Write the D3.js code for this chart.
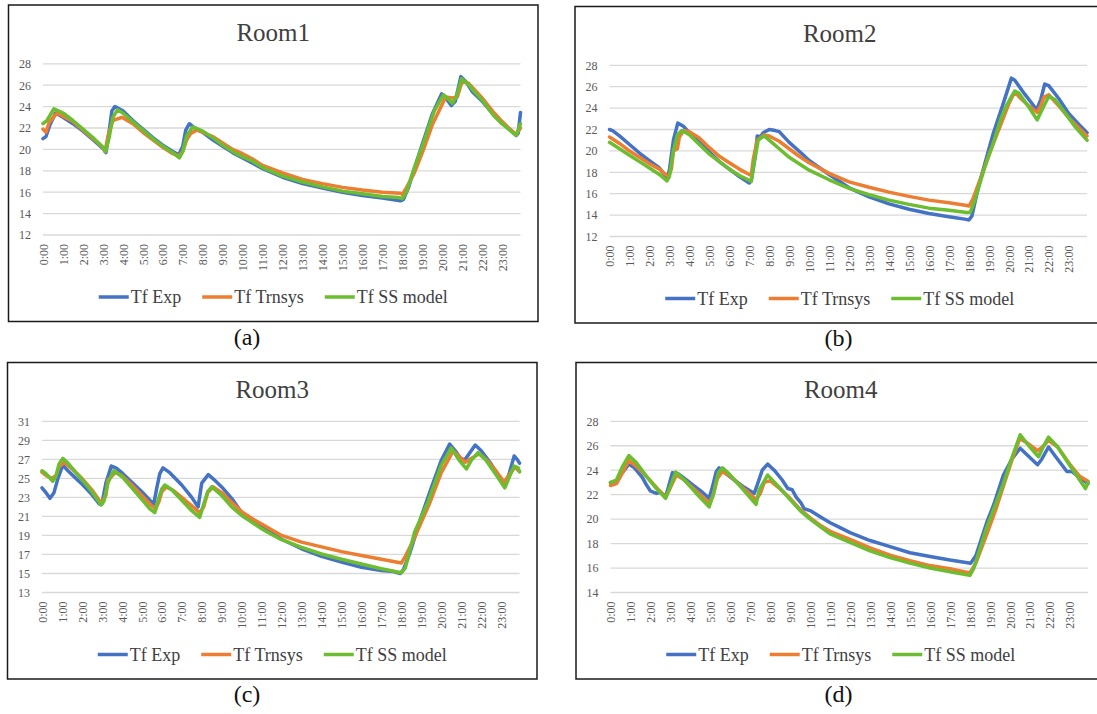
<!DOCTYPE html>
<html><head><meta charset="utf-8">
<script src="https://cdn.jsdelivr.net/npm/d3@7"></script>
<style>
body{margin:0;background:#fff}
svg{display:block}
text{font-family:"Liberation Serif","Times New Roman",Times,"DejaVu Serif",serif}
</style>
</head><body>
<svg id="chart" width="1097" height="714"></svg>
<script>
// ---------- DATA (hour of day, temperature °C) ----------
const timeLabels = ["0:00","1:00","2:00","3:00","4:00","5:00","6:00","7:00","8:00","9:00","10:00","11:00",
  "12:00","13:00","14:00","15:00","16:00","17:00","18:00","19:00","20:00","21:00","22:00","23:00"];
const timeTickHours = [0,1,2,3,4,5,6,7,8,9,10,11,12,13,14,15,16,17,18,19,20,21,22,23];
const lastSampleHour = 23.917; // 23:55
const seriesNames = ["Tf Exp","Tf Trnsys","Tf SS model"];
const seriesColors = ["#4472C4","#ED7D31","#6CBD30"];
const roomTitles = ["Room1","Room2","Room3","Room4"];
const panelLabels = ["(a)","(b)","(c)","(d)"];
const yTicksRoom1 = [12,14,16,18,20,22,24,26,28];
const yTicksRoom2 = [12,14,16,18,20,22,24,26,28];
const yTicksRoom3 = [13,15,17,19,21,23,25,27,29,31];
const yTicksRoom4 = [14,16,18,20,22,24,26,28];

const room1Exp = [[0,21.0],[0.15,21.2],[0.35,22.3],[0.63,23.4],[1,23.0],[1.5,22.4],[2,21.7],[2.5,20.9],[3.0,20.1],[3.15,19.7],[3.3,21.5],[3.45,23.6],[3.6,24.0],[4,23.6],[4.5,22.7],[5,21.9],[5.5,21.1],[6,20.4],[6.5,19.8],[6.8,19.5],[7.0,20.3],[7.15,21.8],[7.33,22.4],[7.6,22.0],[8,21.6],[8.5,20.9],[9,20.3],[9.5,19.7],[10,19.2],[10.5,18.7],[11,18.2],[12,17.4],[13,16.8],[14,16.4],[15,16.0],[16,15.7],[17,15.45],[17.9,15.2],[18.05,15.3],[18.3,16.4],[18.6,18.2],[19,20.5],[19.5,23.3],[19.97,25.2],[20.1,25.0],[20.45,24.1],[20.65,24.5],[20.93,26.8],[21.2,26.3],[21.5,25.4],[22,24.5],[22.5,23.4],[23,22.4],[23.5,21.7],[23.7,21.3],[23.8,21.5],[23.917,23.45]];
const room1Trnsys = [[0,21.9],[0.15,21.6],[0.3,22.5],[0.7,23.4],[1,23.1],[1.5,22.6],[2,21.8],[2.5,21.0],[3,20.2],[3.1,19.8],[3.3,21.6],[3.5,22.7],[3.95,23.0],[4.5,22.4],[5,21.6],[5.5,20.9],[6,20.2],[6.5,19.6],[6.8,19.4],[7.0,19.8],[7.2,20.9],[7.4,21.5],[7.7,21.8],[8,21.6],[8.5,21.2],[9,20.6],[9.5,20.0],[10,19.6],[10.5,19.1],[11,18.5],[12,17.8],[13,17.2],[14,16.8],[15,16.45],[16,16.2],[17,16.0],[17.9,15.9],[18.0,15.8],[18.2,16.4],[18.6,17.8],[19,19.7],[19.5,22.3],[20.17,24.9],[20.5,24.8],[20.75,24.9],[21.0,26.4],[21.3,26.2],[21.6,25.6],[22,24.8],[22.6,23.4],[23,22.6],[23.5,21.7],[23.7,21.4],[23.917,22.0]];
const room1SS = [[0,22.4],[0.2,22.7],[0.55,23.8],[1,23.4],[1.5,22.7],[2,21.9],[2.5,21.1],[3,20.2],[3.14,19.8],[3.3,21.0],[3.5,23.0],[3.73,23.7],[4,23.4],[4.5,22.6],[5,21.8],[5.5,21.0],[6,20.3],[6.5,19.7],[6.83,19.2],[7.0,19.8],[7.2,21.3],[7.5,22.1],[8,21.7],[8.5,21.1],[9,20.4],[9.5,19.8],[10,19.3],[10.5,18.9],[11,18.3],[12,17.5],[13,16.95],[14,16.5],[15,16.1],[16,15.85],[17,15.6],[17.8,15.5],[18.0,15.4],[18.2,16.0],[18.6,18.3],[19,20.3],[19.25,21.7],[19.6,23.6],[20.05,25.1],[20.25,24.8],[20.5,24.3],[20.7,24.9],[20.97,26.6],[21.3,26.1],[21.6,25.4],[22,24.6],[22.6,23.1],[23,22.4],[23.5,21.6],[23.7,21.3],[23.917,22.4]];

const room2Exp = [[0,22.0],[0.15,21.9],[0.5,21.4],[1,20.6],[1.5,19.8],[2,19.1],[2.5,18.4],[2.88,17.5],[3.0,18.2],[3.2,21.0],[3.42,22.6],[3.7,22.3],[4,21.7],[4.5,20.8],[5,19.9],[5.5,19.0],[6,18.3],[6.5,17.6],[7.0,17.0],[7.1,17.2],[7.3,19.5],[7.4,21.4],[7.55,21.3],[7.7,21.7],[8.0,22.0],[8.3,21.9],[8.5,21.8],[9,20.8],[9.6,19.8],[10,19.1],[11,17.8],[12,16.55],[13,15.7],[14,15.05],[15,14.55],[16,14.15],[17,13.85],[17.87,13.6],[18.0,13.55],[18.15,13.9],[18.5,16.8],[19.2,21.5],[19.7,24.3],[20.13,26.8],[20.3,26.6],[20.8,25.3],[21.4,23.85],[21.6,24.8],[21.8,26.25],[22.0,26.1],[22.5,24.9],[23,23.5],[23.5,22.5],[23.917,21.7]];
const room2Trnsys = [[0,21.3],[0.5,20.7],[1,20.0],[1.5,19.4],[2,18.8],[2.5,18.3],[2.8,17.8],[2.95,17.6],[3.1,18.3],[3.2,20.0],[3.4,20.2],[3.5,21.3],[3.72,21.9],[4,21.8],[4.5,21.2],[5,20.3],[5.5,19.5],[6,18.9],[6.5,18.3],[7.0,17.8],[7.1,17.7],[7.2,19.2],[7.4,21.0],[7.74,21.5],[8,21.4],[8.5,20.9],[9,20.2],[9.5,19.5],[10,18.9],[11,17.9],[12,17.1],[13,16.6],[14,16.15],[15,15.75],[16,15.4],[17,15.15],[17.9,14.9],[18.0,14.85],[18.2,15.5],[18.6,17.5],[19.0,19.6],[19.5,22.0],[20,24.4],[20.3,25.5],[20.6,24.9],[21,24.2],[21.42,23.6],[21.6,24.2],[21.75,25.0],[22.0,25.25],[22.5,24.2],[23,23.1],[23.917,21.4]];
const room2SS = [[0,20.8],[0.5,20.2],[1,19.6],[1.5,19.0],[2,18.4],[2.5,17.8],[2.88,17.2],[3.0,17.6],[3.2,20.0],[3.4,21.5],[3.63,21.9],[4,21.5],[4.5,20.6],[5,19.7],[5.5,19.0],[6,18.3],[6.5,17.7],[7.1,17.15],[7.25,19.0],[7.45,21.0],[7.74,21.4],[8,21.0],[8.5,20.2],[9,19.4],[9.5,18.8],[10,18.2],[11,17.3],[12,16.5],[13,15.9],[14,15.4],[15,15.0],[16,14.65],[17,14.45],[17.9,14.25],[18.07,14.25],[18.3,15.4],[18.8,18.5],[19.2,20.6],[19.6,23.0],[19.9,24.3],[20.3,25.6],[20.5,25.4],[21,24.1],[21.42,22.9],[21.6,23.6],[22.0,25.1],[22.3,24.8],[22.8,23.6],[23.3,22.3],[23.917,21.0]];

const room3Exp = [[0,24.0],[0.2,23.5],[0.4,22.9],[0.6,23.5],[0.8,25.0],[1.04,26.4],[1.3,25.8],[1.7,25.0],[2,24.4],[2.5,23.3],[2.88,22.3],[3.0,22.3],[3.2,24.5],[3.47,26.3],[3.7,26.1],[4,25.6],[4.5,24.6],[5,23.6],[5.4,22.7],[5.6,22.3],[5.75,24.0],[5.9,25.5],[6.06,26.1],[6.4,25.6],[7,24.3],[7.5,23.0],[7.82,22.0],[8.0,24.5],[8.33,25.4],[8.6,24.9],[9,24.1],[9.5,22.9],[10,21.4],[10.5,20.6],[11,19.9],[12,18.6],[13,17.6],[14,16.8],[15,16.2],[16,15.65],[17,15.3],[17.6,15.2],[17.95,15.0],[18.1,15.4],[18.4,17.0],[19,21.0],[19.5,24.0],[20,26.9],[20.42,28.6],[20.7,27.9],[21.0,27.0],[21.2,27.0],[21.7,28.5],[22,27.9],[22.5,26.5],[23.18,24.1],[23.4,25.5],[23.65,27.35],[23.8,27.0],[23.917,26.6]];
const room3Trnsys = [[0,25.65],[0.2,25.3],[0.5,25.0],[0.7,25.3],[0.85,26.2],[1.12,26.7],[1.5,26.0],[2,25.0],[2.5,23.8],[2.96,22.4],[3.2,23.2],[3.3,24.8],[3.68,25.65],[4,25.3],[4.5,24.3],[5,23.2],[5.5,22.1],[5.7,21.8],[5.85,22.5],[6.0,23.6],[6.23,24.1],[6.6,23.7],[7,23.0],[7.5,22.1],[7.9,21.4],[8.1,22.0],[8.3,23.5],[8.58,24.1],[9,23.5],[9.5,22.5],[10,21.5],[10.5,20.8],[11,20.2],[11.5,19.6],[12,19.0],[13,18.3],[14,17.8],[15,17.3],[16,16.9],[17,16.5],[18,16.1],[18.2,16.8],[18.6,18.5],[19,20.4],[19.4,22.3],[20,25.6],[20.6,27.9],[20.9,27.3],[21.2,26.7],[21.5,27.1],[21.9,27.6],[22.3,26.9],[22.7,25.9],[23.15,24.6],[23.4,25.4],[23.7,26.2],[23.917,25.7]];
const room3SS = [[0,25.8],[0.2,25.5],[0.54,24.7],[0.7,25.2],[0.85,26.5],[1.04,27.1],[1.3,26.6],[1.7,25.6],[2,24.9],[2.5,23.6],[2.96,22.2],[3.1,22.6],[3.3,24.5],[3.58,25.8],[4,25.2],[4.5,24.0],[5,22.8],[5.4,21.8],[5.65,21.4],[5.8,22.6],[6.0,23.9],[6.15,24.3],[6.5,23.8],[7,22.7],[7.5,21.6],[7.9,20.9],[8.1,22.3],[8.3,23.6],[8.5,24.1],[9,23.2],[9.5,22.0],[10,21.1],[10.5,20.4],[11,19.7],[11.5,19.1],[12,18.55],[13,17.75],[14,17.05],[15,16.5],[16,16.0],[17,15.5],[17.99,15.07],[18.2,15.6],[18.66,19.35],[19.33,22.5],[20.0,26.4],[20.5,28.2],[20.9,26.9],[21.26,26.0],[21.5,26.9],[21.84,27.7],[22.2,27.0],[22.7,25.5],[23.18,24.0],[23.4,25.1],[23.65,26.3],[23.85,26.1],[23.917,25.7]];

const room4Exp = [[0,22.97],[0.3,23.0],[0.5,23.6],[0.92,24.5],[1.2,24.2],[1.6,23.4],[1.8,22.8],[2.0,22.3],[2.3,22.1],[2.5,22.2],[2.76,21.85],[2.9,22.6],[3.1,23.8],[3.4,23.7],[3.8,23.2],[4.2,22.7],[4.6,22.2],[4.94,21.7],[5.1,22.6],[5.3,23.9],[5.44,24.2],[5.8,23.7],[6.2,23.2],[6.7,22.6],[7.2,22.1],[7.35,22.8],[7.6,24.0],[7.87,24.5],[8.2,24.0],[8.6,23.2],[8.88,22.5],[9.1,22.4],[9.3,21.8],[9.55,21.3],[9.7,20.85],[10,20.7],[10.5,20.2],[11,19.7],[11.5,19.3],[12,18.9],[13,18.25],[14,17.75],[15,17.25],[16,16.95],[17,16.65],[18.04,16.4],[18.3,17.0],[18.85,19.75],[19.2,21.2],[19.68,23.6],[20.1,24.9],[20.52,25.8],[20.9,25.2],[21.39,24.45],[21.6,24.9],[21.94,25.9],[22.3,25.1],[22.86,23.9],[23.1,23.9],[23.5,23.4],[23.917,22.9]];
const room4Trnsys = [[0,22.75],[0.3,22.9],[0.6,23.8],[0.92,24.8],[1.3,24.3],[1.8,23.5],[2.3,22.6],[2.76,21.8],[2.95,22.4],[3.3,23.6],[3.7,23.2],[4.3,22.3],[4.94,21.3],[5.15,22.0],[5.35,23.3],[5.6,23.9],[6,23.5],[6.6,22.6],[7.3,21.6],[7.5,22.1],[7.7,23.0],[8.0,23.15],[8.4,22.6],[9,21.7],[9.5,20.8],[10,20.1],[10.5,19.5],[11,19.0],[12,18.35],[13,17.65],[14,17.05],[15,16.6],[16,16.2],[17,15.95],[18.0,15.6],[18.3,16.4],[18.9,19.0],[19.3,20.8],[19.7,22.8],[20.1,24.8],[20.5,26.6],[20.9,26.2],[21.4,25.6],[21.7,26.0],[21.94,26.45],[22.4,25.9],[23,24.5],[23.5,23.5],[23.917,23.1]];
const room4SS = [[0,23.0],[0.3,23.2],[0.6,24.3],[0.92,25.2],[1.3,24.6],[1.8,23.5],[2.3,22.5],[2.76,21.7],[2.95,22.5],[3.27,23.85],[3.7,23.2],[4.3,22.1],[4.94,21.0],[5.15,22.0],[5.4,23.8],[5.61,24.2],[6,23.6],[6.6,22.5],[7.29,21.2],[7.45,22.4],[7.87,23.6],[8.4,22.7],[9,21.6],[9.5,20.7],[10,20.0],[10.5,19.4],[11,18.8],[12,18.1],[13,17.4],[14,16.85],[15,16.4],[16,16.0],[17,15.7],[18.0,15.4],[18.2,16.0],[18.85,19.35],[19.68,22.9],[20.1,25.0],[20.52,26.9],[20.9,26.1],[21.44,25.1],[21.7,26.0],[21.94,26.7],[22.4,25.9],[23,24.4],[23.5,23.2],[23.79,22.5],[23.917,23.0]];

// ---------- LAYOUT ----------
const panels = [
  {title: roomTitles[0], label: panelLabels[0], yTicks: yTicksRoom1, series: [room1Exp, room1Trnsys, room1SS], fx: 8.5, fy: 5, labelDx: 238.5},
  {title: roomTitles[1], label: panelLabels[1], yTicks: yTicksRoom2, series: [room2Exp, room2Trnsys, room2SS], fx: 575, fy: 6.5, labelDx: 263.5},
  {title: roomTitles[2], label: panelLabels[2], yTicks: yTicksRoom3, series: [room3Exp, room3Trnsys, room3SS], fx: 7.5, fy: 362.5, labelDx: 239.5},
  {title: roomTitles[3], label: panelLabels[3], yTicks: yTicksRoom4, series: [room4Exp, room4Trnsys, room4SS], fx: 576, fy: 362.5, labelDx: 262.5}
];
const FW = 529.5, FH = 316.5;
const plotL = 34.5, plotW = 477.5, plotT = 58.8, plotB = 230;
const serif = '"Liberation Serif","Times New Roman",Times,"DejaVu Serif",serif';

const svg = d3.select("#chart");

panels.forEach(p => {
  const g = svg.append("g").attr("transform", `translate(${p.fx},${p.fy})`).style("font-family", serif);
  g.append("rect").attr("x", 0).attr("y", 0).attr("width", FW).attr("height", FH)
    .attr("fill", "#fff").attr("stroke", "#1a1a1a").attr("stroke-width", 1.5);

  const x = d3.scaleLinear().domain([0, lastSampleHour]).range([plotL, plotL + plotW]);
  const yMin = p.yTicks[0], yMax = p.yTicks[p.yTicks.length - 1];
  const y = d3.scaleLinear().domain([yMin, yMax]).range([plotB, plotT]);

  // gridlines
  g.append("g").selectAll("line").data(p.yTicks).join("line")
    .attr("x1", x(0)).attr("x2", x(lastSampleHour))
    .attr("y1", d => y(d)).attr("y2", d => y(d))
    .attr("stroke", "#d9d9d9").attr("stroke-width", 1.3);

  // y axis
  const ya = g.append("g").attr("transform", `translate(${x(0)},0)`)
    .call(d3.axisLeft(y).tickValues(p.yTicks).tickSize(0).tickPadding(12).tickFormat(d3.format("d")));
  ya.select(".domain").remove();
  ya.attr("font-family", null).attr("font-size", 12);
  ya.selectAll("text").attr("fill", "#595959").style("font-family", serif);

  // x axis
  const xa = g.append("g").attr("transform", `translate(0,${plotB})`)
    .call(d3.axisBottom(x).tickValues(timeTickHours).tickSize(0).tickFormat((d, i) => timeLabels[i]));
  xa.select(".domain").remove();
  xa.attr("font-family", null).attr("font-size", 12);
  xa.selectAll("text").attr("fill", "#595959").style("font-family", serif)
    .attr("transform", "rotate(-90)").attr("text-anchor", "end")
    .attr("x", -9).attr("y", 0).attr("dy", "0.35em");

  // lines
  const line = d3.line().x(d => x(d[0])).y(d => y(d[1])).curve(d3.curveLinear);
  p.series.forEach((s, i) => {
    g.append("path").datum(s).attr("d", line)
      .attr("fill", "none").attr("stroke", seriesColors[i]).attr("stroke-width", 3.5)
      .attr("stroke-linejoin", "round").attr("stroke-linecap", "round");
  });

  // title
  g.append("text").attr("x", FW / 2).attr("y", 35.5).attr("text-anchor", "middle")
    .attr("font-size", 25).attr("fill", "#404040").style("font-family", serif).text(p.title);

  // legend
  const lg = g.append("g");
  let cx = 0;
  seriesNames.forEach((n, i) => {
    const it = lg.append("g");
    it.append("line").attr("x1", 0).attr("x2", 30).attr("y1", 0).attr("y2", 0)
      .attr("stroke", seriesColors[i]).attr("stroke-width", 3.5);
    const t = it.append("text").attr("x", 32).attr("y", 0).attr("dy", "0.35em")
      .attr("font-size", 18).attr("fill", "#404040").style("font-family", serif).text(n);
    const w = 32 + t.node().getComputedTextLength();
    it.attr("transform", `translate(${cx},0)`);
    cx += w + 21;
  });
  const total = cx - 21;
  lg.attr("transform", `translate(${FW / 2 - total / 2},292)`);

  // panel label
  svg.append("text").attr("x", p.fx + p.labelDx).attr("y", p.fy + FH + 23)
    .attr("text-anchor", "middle").attr("font-size", 24).attr("fill", "#111")
    .style("font-family", serif).text(p.label);
});
</script>
</body></html>
